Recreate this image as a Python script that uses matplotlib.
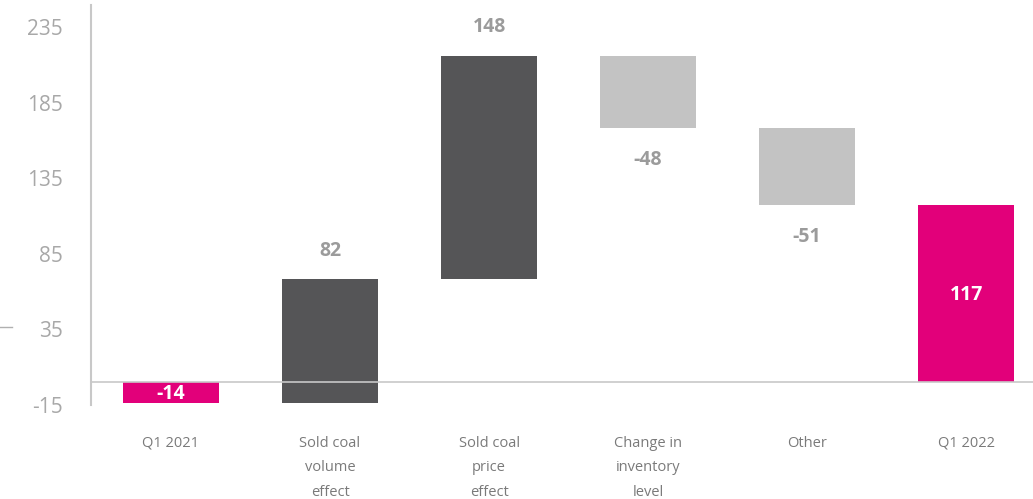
import numpy as np
import matplotlib.pyplot as plt
from matplotlib.lines import Line2D

categories = ["Q1 2021", "Sold coal\nvolume\neffect", "Sold coal\nprice\neffect",
              "Change in\ninventory\nlevel", "Other", "Q1 2022"]
values = [-14, 82, 148, -48, -51, 117]
is_total = [True, False, False, False, False, True]
y_ticks = [-15, 35, 85, 135, 185, 235]

PINK = "#E2007A"
DARK = "#555557"
LIGHT = "#C3C3C3"
LABEL_GRAY = "#9B9B9B"
TICK_GRAY = "#A8A8A8"
AXIS_GRAY = "#C8C8C8"

plt.rcParams["font.family"] = ["Open Sans", "DejaVu Sans"]

fig = plt.figure(figsize=(10.33, 4.99), dpi=100)
ax = fig.add_axes([91 / 1033, 94 / 499, 1 - 91 / 1033, 400 / 499])

x = np.arange(len(values))
bottoms = []
running = 0
for v, tot in zip(values, is_total):
    if tot:
        bottoms.append(0)
        running = v
    else:
        bottoms.append(running)
        running += v

for i, (v, b, tot) in enumerate(zip(values, bottoms, is_total)):
    if tot:
        color = PINK
    elif v > 0:
        color = DARK
    else:
        color = LIGHT
    ax.bar(x[i], v, bottom=b, width=0.604, color=color, zorder=2)
    if tot:
        ax.text(x[i], b + v / 2 - 1, f"{v}", ha="center", va="center",
                color="white", fontsize=14, fontweight="bold", zorder=4)
    elif v > 0:
        ax.text(x[i], b + v + 19, f"{v}", ha="center", va="center",
                color=LABEL_GRAY, fontsize=14, fontweight="bold")
    else:
        ax.text(x[i], b + v - 21, f"{v}", ha="center", va="center",
                color=LABEL_GRAY, fontsize=14, fontweight="bold")

ax.axhline(0, color=AXIS_GRAY, linewidth=1.2, zorder=3)

ax.set_xlim(-0.503, 5.42)
ax.set_ylim(-15, 249.5)
ax.set_yticks(y_ticks)
ax.set_yticklabels([str(t) for t in y_ticks], fontsize=15, color=TICK_GRAY)
ax.tick_params(axis="y", length=0, pad=20)
ax.set_xticks(x)
ax.set_xticklabels(categories, fontsize=10.5, color="#7A7A7A", linespacing=1.9,
                   va="top")
ax.tick_params(axis="x", length=0, pad=22)

for side in ["top", "right", "bottom"]:
    ax.spines[side].set_visible(False)
ax.spines["left"].set_color(AXIS_GRAY)
ax.spines["left"].set_linewidth(1.5)

fig.add_artist(Line2D([0, 12 / 1033], [1 - 327 / 499, 1 - 327 / 499],
                      color="#B0B0B0", linewidth=1))

fig.savefig("out.png", dpi=100)
